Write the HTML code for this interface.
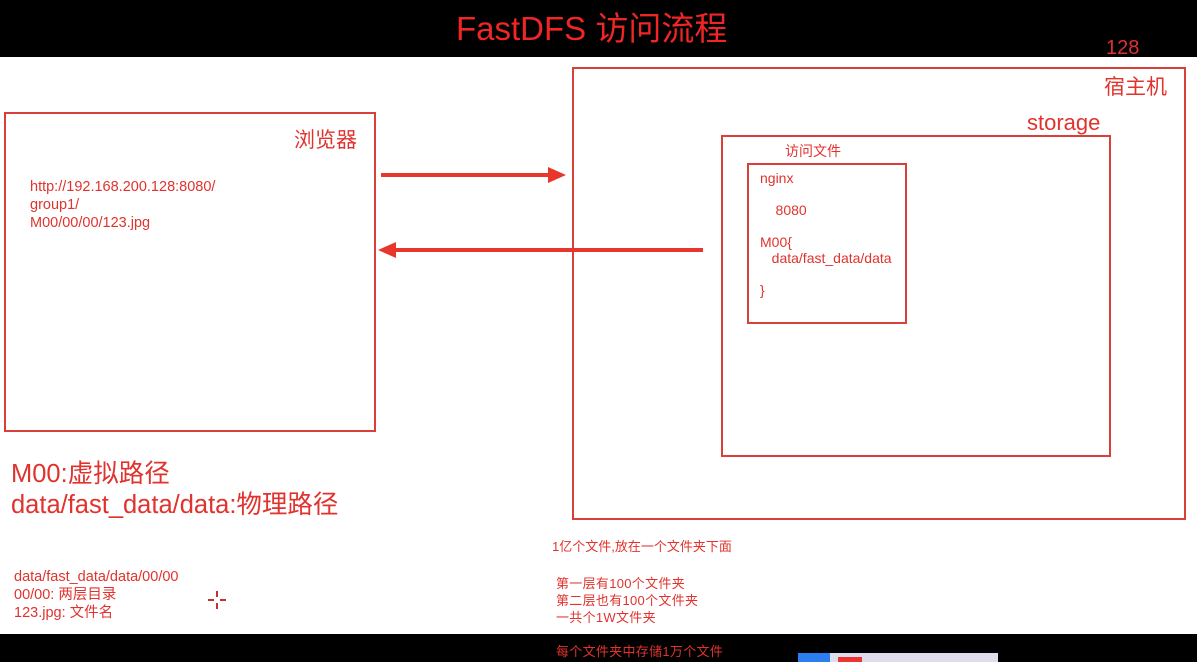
<!DOCTYPE html>
<html><head><meta charset="utf-8"><style>
body{margin:0;width:1197px;height:662px;background:#fff;position:relative;overflow:hidden;font-family:"Liberation Sans","Noto Sans CJK SC",sans-serif;color:#e0332e}
div{position:absolute}
.b{border:2px solid #d9403a;box-sizing:border-box}
.t{white-space:nowrap;line-height:1}
</style></head><body>
<div style="left:0;top:0;width:1197px;height:57px;background:#000"></div>
<div class="t" style="left:456px;top:12px;font-size:33px;color:#f02525">FastDFS 访问流程</div>
<div class="t" style="left:1106px;top:38px;font-size:20px;color:#e03030">128</div>
<div style="left:0;top:634px;width:1197px;height:28px;background:#000"></div>
<div class="t" style="left:556px;top:645px;font-size:13px;letter-spacing:0.3px">每个文件夹中存储1万个文件</div>
<div style="left:798px;top:653px;width:200px;height:9px;background:#dde"></div>
<div style="left:798px;top:653px;width:32px;height:9px;background:#2a7ef0"></div>
<div style="left:838px;top:657px;width:24px;height:5px;background:#e33"></div>

<div class="b" style="left:4px;top:112px;width:372px;height:320px"></div>
<div class="t" style="left:294px;top:130px;font-size:21px">浏览器</div>
<div style="left:30px;top:178px;font-size:14.5px;line-height:18px">http://192.168.200.128:8080/<br>group1/<br>M00/00/00/123.jpg</div>

<div class="b" style="left:572px;top:67px;width:614px;height:453px"></div>
<div class="t" style="left:1104px;top:77px;font-size:21px">宿主机</div>
<div class="t" style="left:1027px;top:112px;font-size:22px">storage</div>
<div class="b" style="left:721px;top:135px;width:390px;height:322px"></div>
<div class="t" style="left:785px;top:144px;font-size:14px">访问文件</div>
<div class="b" style="left:747px;top:163px;width:160px;height:161px"></div>
<div style="left:760px;top:170px;font-size:14px;line-height:16px">nginx<br><br>&nbsp;&nbsp;&nbsp;&nbsp;8080<br><br>M00{<br>&nbsp;&nbsp;&nbsp;data/fast_data/data<br><br>}</div>

<svg style="position:absolute;left:0;top:0" width="1197" height="662">
<line x1="381" y1="175" x2="552" y2="175" stroke="#e8362d" stroke-width="4"/>
<polygon points="566,175 548,167 548,183" fill="#e8362d"/>
<line x1="703" y1="250" x2="394" y2="250" stroke="#e8362d" stroke-width="4"/>
<polygon points="378,250 396,242 396,258" fill="#e8362d"/>
<g stroke="#b33" stroke-width="2"><line x1="208" y1="600" x2="214" y2="600"/><line x1="220" y1="600" x2="226" y2="600"/><line x1="217" y1="591" x2="217" y2="597"/><line x1="217" y1="603" x2="217" y2="609"/></g>
</svg>

<div style="left:11px;top:459px;font-size:25.5px;line-height:31px">M00:虚拟路径<br>data/fast_data/data:物理路径</div>
<div style="left:14px;top:568px;font-size:14.5px;line-height:18px">data/fast_data/data/00/00<br>00/00: 两层目录<br>123.jpg: 文件名</div>
<div class="t" style="left:552px;top:540px;font-size:13px">1亿个文件,放在一个文件夹下面</div>
<div style="left:556px;top:575px;font-size:13px;line-height:17px;letter-spacing:0.3px">第一层有100个文件夹<br>第二层也有100个文件夹<br>一共个1W文件夹</div>
</body></html>
